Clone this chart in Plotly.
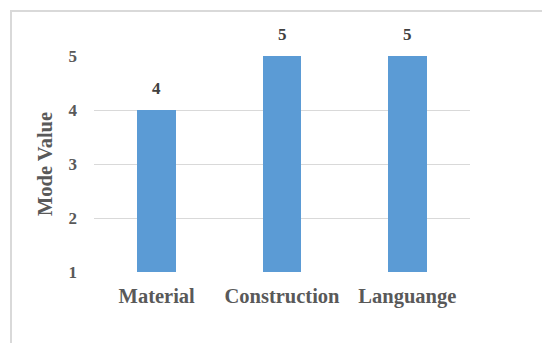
import plotly.graph_objects as go

categories = ["Material", "Construction", "Languange"]
values = [4, 5, 5]
y_ticks = [1, 2, 3, 4, 5]

FONT = "Liberation Serif"
GREY = "#595959"

fig = go.Figure()
fig.add_trace(go.Bar(
    x=categories, y=values, width=0.31,
    marker=dict(color="#5B9BD5", line=dict(width=0)),
    hoverinfo="skip",
))

for c, v in zip(categories, values):
    fig.add_annotation(x=c, y=v, text=str(v), showarrow=False,
                       yanchor="bottom", yshift=10,
                       font=dict(family=FONT, size=17, color="#404040", weight="bold"))

fig.update_layout(
    width=542, height=343,
    margin=dict(l=94, r=72, t=56, b=71, autoexpand=False),
    paper_bgcolor="white", plot_bgcolor="white",
    showlegend=False,
    bargap=0,
    shapes=[dict(type="rect", xref="paper", yref="paper",
                 x0=-0.2207, x1=2.0, y0=-1.0, y1=1.2083,
                 line=dict(color="#D9D9D9", width=2), layer="below")],
)

fig.update_xaxes(
    showgrid=False, zeroline=False, showline=False, ticks="",
    tickfont=dict(family=FONT, size=20.5, color=GREY, weight="bold"),
    ticklabelstandoff=9,
)
fig.update_yaxes(
    range=[1, 5], tickvals=y_ticks, showgrid=True, gridcolor="#D9D9D9", gridwidth=1,
    zeroline=False, showline=False, ticks="",
    tickfont=dict(family=FONT, size=17, color=GREY, weight="bold"),
    ticklabelstandoff=16,
    title=dict(text="Mode Value", standoff=10,
               font=dict(family=FONT, size=20.5, color=GREY, weight="bold")),
)

fig.write_html("out.html")
